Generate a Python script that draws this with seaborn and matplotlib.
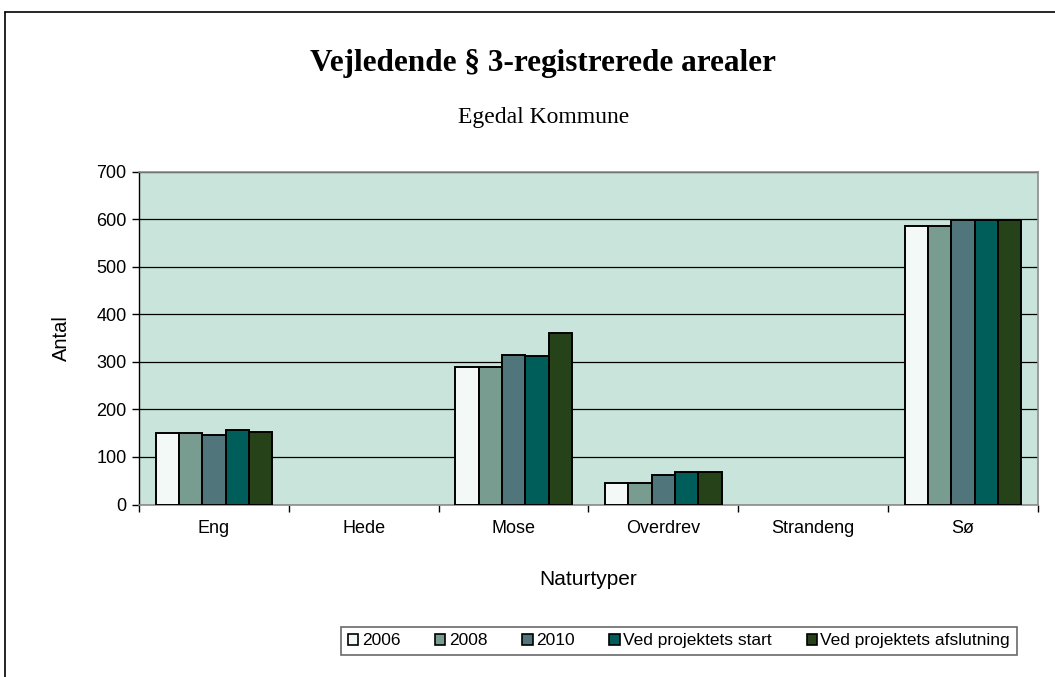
import pandas as pd
import numpy as np
import matplotlib
matplotlib.use("Agg")
import matplotlib.pyplot as plt
import seaborn as sns

# values
naturtyper = ["Eng", "Hede", "Mose", "Overdrev", "Strandeng", "Sø"]
series = ["2006", "2008", "2010", "Ved projektets start", "Ved projektets afslutning"]
v_2006 = [150, np.nan, 290, 46, np.nan, 587]
v_2008 = [150, np.nan, 290, 46, np.nan, 587]
v_2010 = [147, np.nan, 314, 63, np.nan, 599]
v_start = [156, np.nan, 312, 68, np.nan, 599]
v_slut = [152, np.nan, 361, 68, np.nan, 599]
colors = ["#F3F9F6", "#789C90", "#50767B", "#005E5A", "#264219"]

rows = []
for name, vals in zip(series, [v_2006, v_2008, v_2010, v_start, v_slut]):
    for cat, v in zip(naturtyper, vals):
        rows.append({"Naturtyper": cat, "Serie": name, "Antal": v})
df = pd.DataFrame(rows)

sns.set_style("white", {"text.color": "black", "axes.labelcolor": "black",
                        "xtick.color": "black", "ytick.color": "black"})
plt.rcParams["font.family"] = ["Liberation Sans", "DejaVu Sans"]

fig = plt.figure(figsize=(10.55, 6.77), dpi=100)
ax = fig.add_axes([0.1318, 0.2548, 0.852, 0.4912])
ax.set_facecolor("#C8E4DB")

sns.barplot(data=df, x="Naturtyper", y="Antal", hue="Serie", order=naturtyper,
            hue_order=series, palette=colors, saturation=1, width=0.78, gap=0,
            edgecolor="black", linewidth=1.4, errorbar=None, ax=ax, zorder=3)

ax.set_ylim(0, 700)
ax.set_xlim(-0.5, len(naturtyper) - 0.5)
ax.set_yticks(range(0, 701, 100))
ax.yaxis.grid(True, color="black", linewidth=0.9, zorder=1)
ax.set_axisbelow(True)
for s in ax.spines.values():
    s.set_color("#8C8C8C")
    s.set_linewidth(1.2)
ax.spines["left"].set_color("black")
ax.spines["left"].set_linewidth(1.0)

# ticks on x at the category boundaries, labels in the middle
ax.set_xticks(np.arange(-0.5, len(naturtyper) + 0.5, 1.0), minor=False)
ax.set_xticklabels([])
ax.set_xticks(np.arange(len(naturtyper)), minor=True)
ax.set_xticklabels(naturtyper, minor=True, fontsize=13)
ax.tick_params(axis="x", which="major", length=5, width=1, color="black", direction="out", bottom=True)
ax.tick_params(axis="x", which="minor", length=0, pad=11)
ax.tick_params(axis="y", length=5, width=1, color="black", direction="out", left=True, labelsize=13, pad=4)

ax.set_xlabel("Naturtyper", fontsize=15, labelpad=24)
ax.set_ylabel("Antal", fontsize=14.5, labelpad=18)

ax.get_legend().remove()
handles = [plt.Rectangle((0, 0), 1, 1, facecolor=c, edgecolor="black", linewidth=1.2) for c in colors]
leg = fig.legend(handles, series, loc="center", bbox_to_anchor=(0.6436, 0.0532), ncol=5,
                 fontsize=12.5, frameon=True, fancybox=False, edgecolor="#444444",
                 handlelength=0.6, handleheight=0.6, handletextpad=0.2, columnspacing=2.0,
                 borderpad=0.4)
leg.get_frame().set_linewidth(1.2)

fig.text(0.5147, 1 - 63 / 677, "Vejledende § 3-registrerede arealer", ha="center", va="center",
         fontsize=22.5, fontweight="bold", color="black", family=["Liberation Serif", "DejaVu Serif"])
fig.text(0.5156, 1 - 118 / 677, "Egedal Kommune", ha="center", va="center",
         fontsize=17, color="black", family=["Liberation Serif", "DejaVu Serif"])

# outer chart-area border (top and left edges visible in the reference)
fig.add_artist(plt.Line2D([5 / 1055, 1.0], [1 - 12 / 677, 1 - 12 / 677], color="black", linewidth=1.2))
fig.add_artist(plt.Line2D([5 / 1055, 5 / 1055], [0, 1 - 12 / 677], color="black", linewidth=1.2))

fig.savefig("out.png", dpi=100)
